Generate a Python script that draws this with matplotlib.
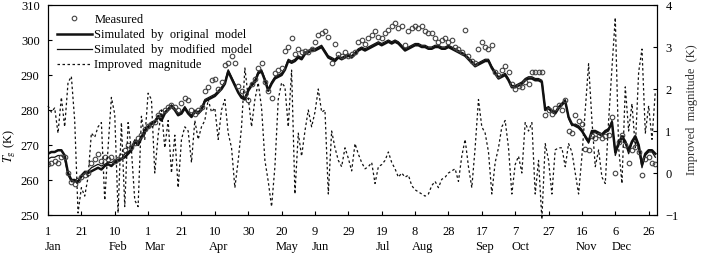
import numpy as np
import matplotlib
matplotlib.use("Agg")
import matplotlib.pyplot as plt

# day of year, every second day
days = np.arange(1, 366, 2)

measured = [
    264.5, 265, 265.5, 265, 266.5, 266.5, 262, 259.5, 259, 260, 261, 261.5, 262, 265, 266, 267.5,
    265.5, 266.5, 266, 266.5, 265.5, 266, 267, 268.5, 270, 269.5, 270.5, 272, 273, 274.5, 275.5, 276,
    276.5, 278.5, 279.5, 280, 281, 281.5, 281, 280, 282, 283.5, 283, 280, 279, 280, 281, 285.5,
    286.5, 288.5, 289, 286, 288, 293, 293.5, 295.5, 293.5, 287, 285.5, 284.5, 283, 287.5, 289, 292,
    293.5, 288, 285.5, 283.5, 290.5, 291.5, 292, 297, 298, 300.5, 296, 297.5, 296.5, 297, 296.5, 297.5,
    299.5, 301.5, 302, 302.5, 301, 293.5, 299, 296, 295.5, 296.5, 295.5, 296, 296.5, 299.5, 300, 299,
    300.5, 301.5, 302.5, 301, 300.5, 302, 303, 304, 305, 303.5, 304, 298.5, 302.5, 303.5, 304, 303.5,
    304, 302.5, 302, 302, 300.5, 299.5, 300, 300.5, 299.5, 300, 298, 297.5, 296.5, 303, 295.5, 294,
    293.5, 297.5, 299.5, 298, 297.5, 298.5, 291, 290, 291.5, 292.5, 291, 287.5, 286, 287, 286.5, 288,
    287.5, 291, 291, 291, 291, 278.5, 280, 279, 280.5, 281.5, 280, 283, 274, 273.5, 278.5, 277,
    276, 269, 268.5, 272.5, 272, 273, 272, 272.5, 273, 278, 262, 271, 273, 270, 265, 268.5,
    269.5, 268, 261.5, 266, 266.5, 265, 264.5,
]

original = [
    267.5, 268, 268, 268.5, 268.5, 267, 262, 260, 260, 259.5, 261, 262, 262, 262.5, 263, 263.5,
    263, 264, 264.5, 264, 265, 265.5, 266, 266.5, 267.5, 268.5, 271, 270, 272, 274, 275, 276,
    276.5, 278, 277, 279, 280, 281, 280, 278.5, 279, 280.5, 279, 278, 279.5, 279, 280, 282.5,
    283, 283.5, 284, 285, 286, 287.5, 291, 289, 287, 285, 283.5, 283, 285.5, 287, 288, 290.5,
    291, 288.5, 285.5, 287.5, 289, 289.5, 290, 291.5, 294, 293.5, 294, 295, 294.5, 296, 296.5, 297,
    297, 297.5, 298, 296.5, 295, 294.5, 294, 295, 294.5, 295, 295.5, 295, 296, 297, 297.5, 297,
    297.5, 298, 298.5, 299, 298.5, 299, 299.5, 299, 299.5, 299, 298, 297, 297.5, 298, 298.5, 298.5,
    298, 298, 297.5, 297.5, 298, 298, 297.5, 297.5, 298, 297.5, 297, 296.5, 296, 295.5, 294.5, 293.5,
    292.5, 293, 293.5, 294, 294, 292, 290.5, 289, 289.5, 290, 288.5, 286.5, 286.5, 287, 287.5, 288.5,
    289, 289, 288.5, 288.5, 288, 280, 280.5, 279.5, 279, 280.5, 281.5, 282.5, 278, 276, 275.5, 275,
    274, 272.5, 271, 274, 274, 273.5, 273, 274, 274.5, 276.5, 268, 270.5, 272.5, 271, 268.5, 271,
    272.5, 270, 264.5, 267.5, 268.5, 268.5, 267.5,
]

modified = [
    266, 266.5, 266.5, 267, 267, 266, 261.5, 259.5, 259.5, 259.5, 261.5, 262.5, 262.5, 263.5, 264, 264.5,
    264, 264.5, 265, 265, 265.5, 266, 266, 267.5, 268, 269, 271.5, 271, 272.5, 274.5, 275.5, 276.5,
    277, 278.5, 278, 279.5, 280.5, 281.5, 280.5, 279, 279.5, 281, 279.5, 278.5, 280, 279.5, 280.5, 283,
    283.5, 284, 284.5, 285.5, 286.5, 288, 291.5, 289.5, 287.5, 285, 284, 283.5, 286, 287.5, 288.5, 291,
    291.5, 289, 286, 288, 289.5, 290, 290.5, 292, 294.5, 294, 294.5, 295.5, 295, 296.5, 297, 297.5,
    297.5, 298, 298.5, 297, 295.5, 295, 294.5, 295.5, 295, 295.5, 296, 295.5, 296.5, 297.5, 298, 297.5,
    298, 298.5, 299, 299.5, 299, 299.5, 300, 299.5, 300, 299.5, 298.5, 297.5, 298, 298.5, 299, 299,
    298.5, 298.5, 298, 298, 298.5, 298.5, 298, 298, 298.5, 298, 297.5, 297, 296.5, 296, 295, 294,
    293, 293.5, 294, 294.5, 294.5, 292.5, 291, 289.5, 290, 290.5, 289, 287, 287, 287.5, 288, 289,
    289.5, 289.5, 289, 289, 288.5, 280.5, 281, 280, 279.5, 281, 282, 283, 277.5, 275.5, 276, 275.5,
    274.5, 272, 270.5, 273.5, 273.5, 273, 272.5, 273.5, 274, 277, 267, 270, 272, 270.5, 267.5, 270.5,
    272, 269, 263.5, 267, 268, 268, 266.5,
]

improved = [
    1.6, 1.45, 1.55, 0.95, 1.8, 1.1, 2.15, 2.3, 1.25, -0.95, -0.35, -0.55, -0.1, 0.95, 0.85, 1.1,
    1.2, -0.65, 0.6, 1.8, 1.4, -0.95, 1.2, -0.8, 1.2, 0.55, -0.65, -0.8, 1.35, 0.8, 1.9, 1.75,
    0.0, 0.9, 1.5, 0.6, 1.25, 0.0, 0.9, -0.35, 0.8, 1.1, 1.0, 0.25, 1.25, 0.8, 1.1, 1.25,
    1.75, 1.45, 1.55, 0.8, 1.5, 1.75, 0.95, 0.6, -0.35, 0.3, 1.1, 2.5, 1.8, 1.1, 1.75, 2.15,
    1.55, 0.3, -0.2, -0.8, 0.15, 1.75, 2.15, 2.05, 1.1, 2.45, -0.5, 0.95, 0.4, 1.0, 1.5, 1.1,
    1.45, 2.0, 1.45, 1.5, -0.5, 1.0, 0.6, 0.3, 0.15, 0.6, 0.35, 0.05, 0.7, 0.45, 0.25, 0.1,
    0.15, 0.25, -0.25, 0.15, 0.2, 0.3, 0.5, 0.25, 0.1, -0.1, 0.0, -0.1, -0.05, -0.3, -0.4, -0.45,
    -0.5, -0.55, -0.5, -0.3, -0.2, -0.35, -0.15, -0.1, 0.0, 0.05, 0.1, -0.2, 0.4, 0.8, 0.15, -0.35,
    0.6, 1.75, 1.1, 0.95, 0.5, -0.5, 0.25, 0.6, 1.1, 1.25, 0.6, -0.5, 0.2, 0.4, 0.0, 1.2,
    1.0, 1.2, -0.5, 0.3, -1.1, 0.7, 0.3, -0.5, 0.55, 0.6, 0.6, 0.15, 0.7, 0.5, 0.0, -0.5,
    0.4, 1.5, 2.6, 1.25, 0.15, 0.55, -0.1, -0.25, 1.25, 2.5, 3.7, 0.6, -0.25, 2.05, 1.0, 1.65,
    0.6, 2.4, 2.95, 0.95, 1.6, 0.8, 1.95,
]

tick_days = list(range(1, 366, 20))
tick_nums = ["1", "21", "10", "1", "21", "10", "30", "20", "9", "29",
             "19", "8", "28", "17", "7", "27", "16", "6", "26"]
tick_months = ["Jan", "", "Feb", "Mar", "", "Apr", "", "May", "Jun", "",
               "Jul", "Aug", "", "Sep", "Oct", "", "Nov", "Dec", ""]

plt.rcParams["font.family"] = ["Liberation Serif", "DejaVu Serif"]
plt.rcParams["mathtext.fontset"] = "stix"
plt.rcParams["font.size"] = 9

fig = plt.figure(figsize=(7.05, 2.61), dpi=100)
ax = fig.add_axes([48 / 705, 1 - 215 / 261, 609 / 705, 210 / 261])
ax2 = ax.twinx()

ax.plot(days, measured, "o", ms=3.3, mfc="none", mec="#444444", mew=0.8, label="Measured", zorder=3)
ax.plot(days, original, "-", color="#111111", lw=1.8, label="Simulated  by  original  model", zorder=2)
ax.plot(days, modified, "-", color="#111111", lw=0.9, label="Simulated  by  modified  model", zorder=2)
ax2.plot(days, improved, color="#111111", lw=0.9, dashes=(2, 2), clip_on=False)
# dummy handle so the dotted series shows in the same legend
ax.plot([], [], color="#111111", lw=0.9, dashes=(2, 2), label="Improved  magnitude")

ax.set_xlim(1, 366)
ax.set_ylim(250, 310)
ax.set_yticks(range(250, 311, 10))
ax2.set_ylim(-1, 4)
ax2.set_yticks(range(-1, 5))
ax2.set_yticklabels(["\u22121", "0", "1", "2", "3", "4"])

ax.set_xticks(tick_days)
ax.set_xticklabels(tick_nums)
for d, n, m in zip(tick_days, tick_nums, tick_months):
    if m:
        ax.annotate(m, xy=(d, 0), xycoords=("data", "axes fraction"),
                    xytext=(-2.3 * len(n), -19), textcoords="offset points",
                    ha="left", va="top", fontsize=9)

ax.tick_params(axis="x", direction="in", length=3, pad=8)
ax.tick_params(axis="y", direction="in", length=3, pad=6)
ax2.tick_params(axis="y", direction="in", length=3, pad=6)

ax.set_ylabel("$T_{\\rm g}$ (K)")
ax.yaxis.set_label_coords(-0.05, 0.33)
ax2.set_ylabel("Improved  magnitude  (K)", color="#333333")
ax2.yaxis.set_label_coords(1.048, 0.5)

ax.legend(loc="upper left", frameon=False, handlelength=2.8, handletextpad=0.2,
          labelspacing=0.25, borderaxespad=0.3, borderpad=0.4, fontsize=9)

fig.savefig("out.png", dpi=100)
